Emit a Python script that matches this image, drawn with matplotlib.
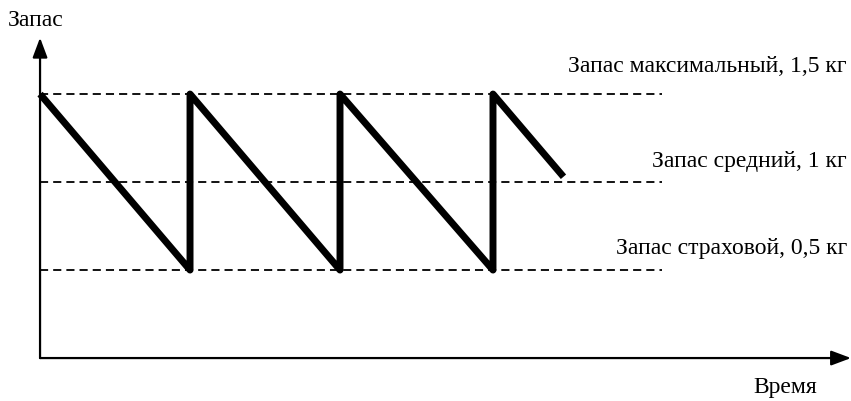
import matplotlib.pyplot as plt

plt.rcParams['font.family'] = ['Liberation Serif', 'DejaVu Serif']

# уровни запаса, кг
levels = [1.5, 1.0, 0.5]
level_labels = ['Запас максимальный, 1,5 кг', 'Запас средний, 1 кг', 'Запас страховой, 0,5 кг']

# пилообразный график запаса
t = [0, 1, 1, 2, 2, 3.02, 3.02, 3.49]
stock = [1.5, 0.5, 1.5, 0.5, 1.5, 0.5, 1.5, 1.03]

fig = plt.figure(figsize=(8.51, 4.02), dpi=100)
ax = fig.add_axes([0, 0, 1, 1])
ax.set_xlim(-0.267, 5.407)
ax.set_ylim(-0.244, 2.04)
ax.axis('off')

# оси со стрелками
arrow = dict(arrowstyle='-|>,head_length=1.2,head_width=0.45', color='black', lw=1.6,
             shrinkA=0, shrinkB=0)
ax.annotate('', xy=(0, 1.82), xytext=(0, 0), arrowprops=arrow)
ax.annotate('', xy=(5.407, 0), xytext=(0, 0), arrowprops=arrow)

# пунктирные уровни
for lv in levels:
    ax.plot([0, 4.15], [lv, lv], color='black', lw=1.3, linestyle=(0, (4.5, 2.8)))

ax.plot(t, stock, color='black', lw=5, solid_joinstyle='round', solid_capstyle='butt')

label_y = [1.66, 1.12, 0.63]
for y, s in zip(label_y, level_labels):
    ax.text(5.38, y, s, ha='right', va='center', fontsize=17)

fig.text(8 / 851, 1 - 20 / 402, 'Запас', ha='left', va='center', fontsize=17)
fig.text(785 / 851, 1 - 388 / 402, 'Время', ha='center', va='center', fontsize=17)

plt.savefig('out.png', dpi=100)
